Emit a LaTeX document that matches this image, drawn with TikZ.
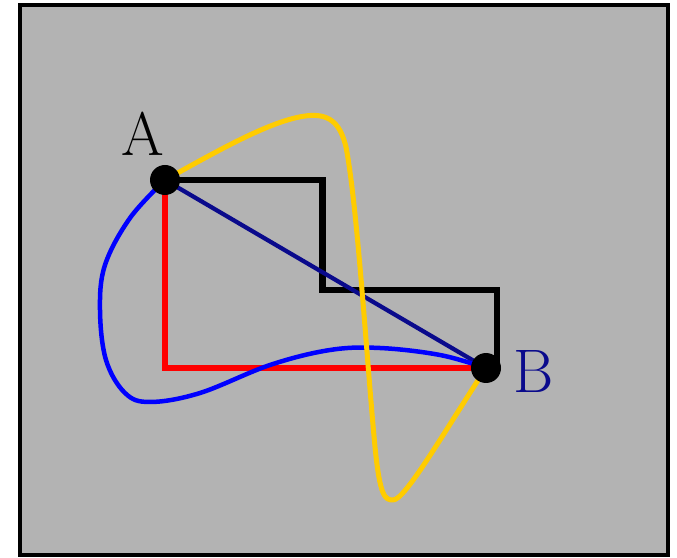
\documentclass[tikz,border=0pt]{standalone}
\usepackage{tikz}
\usetikzlibrary{calc}
\definecolor{mygray}{RGB}{179,179,179}
\definecolor{mynavy}{RGB}{10,10,140}
\definecolor{myblue}{RGB}{0,0,255}
\definecolor{myred}{RGB}{255,0,0}
\definecolor{myyellow}{RGB}{255,204,0}
\tikzset{
  panel/.style={draw=black,line width=0.7mm,fill=mygray},
  pt/.style={circle,fill=black,minimum size=6mm,inner sep=0pt},
  lbl/.style={font=\fontsize{35}{40}\selectfont,inner sep=0pt},
  redpath/.style={line width=1.3mm,color=myred},
  stairpath/.style={line width=1.3mm,color=black},
  chord/.style={line width=0.85mm,color=mynavy},
  bluecurve/.style={line width=0.9mm,color=myblue,line join=round},
  yellowcurve/.style={line width=1mm,color=myyellow,line join=round},
}
\begin{document}
\begin{tikzpicture}
      \useasboundingbox (0,0) rectangle (13.54,11.14);
      \draw[panel] (0.40,0.04) rectangle (13.36,11.04);
      \coordinate (A) at (3.30,7.54);
      \coordinate (B) at (9.72,3.78);
      % paths from A to B
      \draw[redpath] (A) |- (B);
      \draw[stairpath] (A) -| (6.45,5.34) -| ($(B)+(0.22,0)$);
      \draw[chord] (A) -- (B);
      \draw[bluecurve] plot[smooth,tension=0.6] coordinates {(A) (2.60,6.78) (2.10,5.84)
        (2.00,4.94) (2.12,3.94) (2.50,3.28) (3.00,3.10) (4.00,3.28) (5.40,3.84)
        (6.60,4.14) (7.60,4.18) (8.80,4.04) (B)};
      \draw[yellowcurve] (A) .. controls (4.40,8.15) and (5.50,8.78) .. (6.20,8.83)
        .. controls (6.65,8.86) and (6.82,8.60) .. (6.92,8.20)
        .. controls (7.15,7.00) and (7.33,4.00) .. (7.50,2.20)
        .. controls (7.60,1.20) and (7.70,1.14) .. (7.86,1.14)
        .. controls (8.10,1.14) and (8.85,2.45) .. (B);
      % end points
      \node[pt] (ptA) at (A) {};
      \node[pt] (ptB) at (B) {};
      \node[lbl] (labA) at (2.86,8.46) {A};
      \node[lbl,text=mynavy] (labB) at (10.68,3.72) {B};
    \end{tikzpicture}
\end{document}
